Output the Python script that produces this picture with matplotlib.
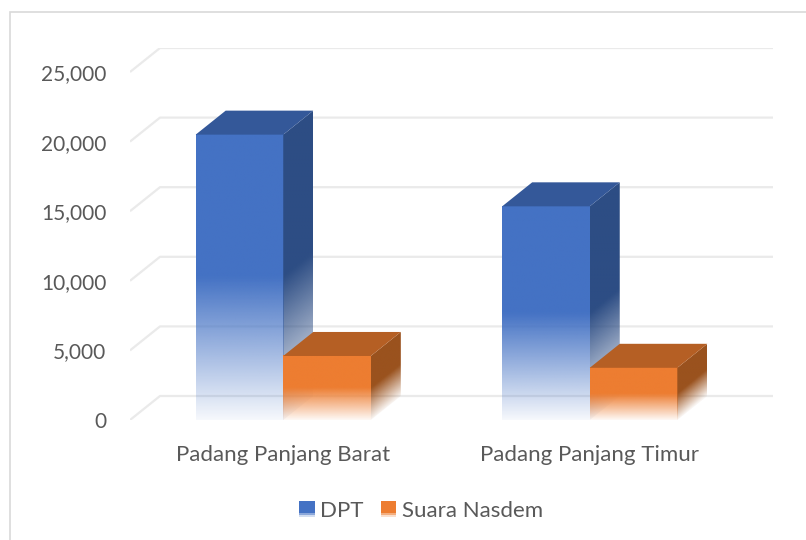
import numpy as np
import matplotlib
matplotlib.use("Agg")
import matplotlib.pyplot as plt
from matplotlib.patches import Polygon, Rectangle
from matplotlib.legend_handler import HandlerBase
from matplotlib.colors import to_rgb

# data
categories = ["Padang Panjang Barat", "Padang Panjang Timur"]
series_names = ["DPT", "Suara Nasdem"]
dpt = [20500, 15350]
nasdem = [4600, 3750]
yticks = [0, 5000, 10000, 15000, 20000, 25000]

# colours (front, top, side)
blue = ("#4472C4", "#345899", "#2D4D84")
orange = ("#ED7D31", "#B55F24", "#9A521E")
text_col = "#595959"
grid_col = "#EAEAEA"

plt.rcParams["font.family"] = ["Lato", "DejaVu Sans"]

W, H = 806, 540
fig = plt.figure(figsize=(W / 100, H / 100), dpi=100)

# chart-area border (only left/top visible in the crop)
fig.patches.append(Rectangle((10 / W, -0.1), 1.2, 1.1 - 12 / H,
                             transform=fig.transFigure, fill=False,
                             edgecolor="#D9D9D9", linewidth=1.2))

# axes covering front plane + depth offset
px_left, px_right, px_bottom, px_top = 130, 773, 420, 48
ax = fig.add_axes([px_left / W, 1 - px_bottom / H,
                   (px_right - px_left) / W, (px_bottom - px_top) / H])

ymax = 25000
front_w_px = 743 - 130
front_h_px = 420 - 72
DX = 30 / front_w_px * 2.0        # depth offset in category units
DY = 24 / front_h_px * ymax       # depth offset in value units
ax.set_xlim(-0.5, 1.5 + DX)
ax.set_ylim(0, ymax + DY)
for s in ax.spines.values():
    s.set_visible(False)

# gridlines: diagonal on the floor side + back wall line
for v in yticks:
    ax.plot([-0.5, -0.5 + DX, 1.5 + DX], [v, v + DY, v + DY],
            color=grid_col, lw=1.6, zorder=0, solid_capstyle="butt")


def alpha_ramp(frac):
    """top half opaque, bottom half fades out"""
    return np.clip(0.05 + 0.95 * frac / 0.5, 0.05, 1.0)


def draw_bar(x0, w, v, cols, z):
    front, top, side = cols
    x1 = x0 + w
    n = 200
    # front face with vertical fade
    frac = np.linspace(1, 0, n)[:, None]
    img = np.zeros((n, 1, 4))
    img[..., :3] = to_rgb(front)
    img[..., 3] = alpha_ramp(frac)
    ax.imshow(img, extent=(x0, x1, 0, v), aspect="auto", origin="upper",
              interpolation="bilinear", zorder=z)
    # side face
    side_poly = Polygon([(x1, 0), (x1 + DX, DY), (x1 + DX, v + DY), (x1, v)],
                        closed=True, facecolor="none", edgecolor="none",
                        zorder=z)
    ax.add_patch(side_poly)
    xs = np.linspace(x1, x1 + DX, 40)
    ys = np.linspace(v + DY, 0, n)
    XX, YY = np.meshgrid(xs, ys)
    u = (YY - DY * (XX - x1) / DX) / v
    simg = np.zeros((n, 40, 4))
    simg[..., :3] = to_rgb(side)
    simg[..., 3] = alpha_ramp(np.clip(u, 0, 1))
    im = ax.imshow(simg, extent=(x1, x1 + DX, 0, v + DY), aspect="auto",
                   origin="upper", interpolation="bilinear", zorder=z)
    im.set_clip_path(side_poly)
    # top face
    ax.add_patch(Polygon([(x0, v), (x1, v), (x1 + DX, v + DY), (x0 + DX, v + DY)],
                         closed=True, facecolor=top, edgecolor="none",
                         zorder=z + 0.1))


bw = 1 / 3.5  # gap width 150%
z = 2
for i in range(len(categories)):
    draw_bar(i - bw, bw, dpt[i], blue, z)
    z += 1
    draw_bar(i, bw, nasdem[i], orange, z)
    z += 1

ax.set_xlim(-0.5, 1.5 + DX)
ax.set_ylim(0, ymax + DY)

ax.set_yticks(yticks)
ax.set_yticklabels([f"{v:,}" for v in yticks])
ax.set_xticks(range(len(categories)))
ax.set_xticklabels(categories)
ax.tick_params(axis="y", length=0, pad=17, labelsize=15, labelcolor=text_col)
ax.tick_params(axis="x", length=0, pad=18, labelsize=16, labelcolor=text_col)


# legend with faded squares
class FadeHandle:
    def __init__(self, color):
        self.color = color


class FadeHandler(HandlerBase):
    def create_artists(self, legend, orig_handle, x0, y0, width, height,
                       fontsize, trans):
        arts = []
        n = 8
        for k in range(n):
            frac = (k + 0.5) / n
            r = Rectangle((x0, y0 + height * k / n), width, height / n,
                          facecolor=orig_handle.color, edgecolor="none",
                          alpha=float(alpha_ramp(frac * 1.6)))
            r.set_transform(trans)
            arts.append(r)
        return arts


handles = [FadeHandle(blue[0]), FadeHandle(orange[0])]
fig.legend(handles, series_names, handler_map={FadeHandle: FadeHandler()},
           loc="center", bbox_to_anchor=(421 / W, 1 - 511 / H), ncol=2,
           frameon=False, fontsize=16, labelcolor=text_col,
           handlelength=0.7, handleheight=0.7, handletextpad=0.25,
           columnspacing=0.75)

fig.savefig("out.png", dpi=100)
